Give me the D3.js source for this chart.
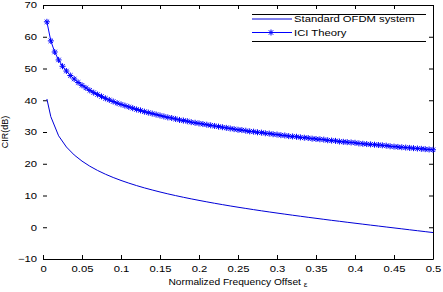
<!DOCTYPE html>
<html>
<head>
<meta charset="utf-8">
<script src="https://cdn.jsdelivr.net/npm/d3@7"></script>
<style>
  body { margin: 0; background: #fff; }
  text { font-family: "Liberation Sans", Arial, sans-serif; fill: #000; }
</style>
</head>
<body>
<svg id="chart" width="443" height="292"></svg>
<script>
// Standard OFDM system (plain line)
const stdEps = [0.005, 0.01, 0.02, 0.03, 0.04, 0.05, 0.06, 0.07, 0.08, 0.09, 0.1,
  0.11, 0.12, 0.13, 0.14, 0.15, 0.16, 0.17, 0.18, 0.19, 0.2,
  0.21, 0.22, 0.23, 0.24, 0.25, 0.26, 0.27, 0.28, 0.29, 0.3,
  0.31, 0.32, 0.33, 0.34, 0.35, 0.36, 0.37, 0.38, 0.39, 0.4,
  0.41, 0.42, 0.43, 0.44, 0.45, 0.46, 0.47, 0.48, 0.49, 0.5];
const stdCir = [40.4, 34.83, 28.80, 25.28, 22.77, 20.83, 19.23, 17.88, 16.71, 15.67, 14.74,
  13.90, 13.12, 12.40, 11.74, 11.11, 10.52, 9.97, 9.44, 8.94, 8.46,
  8.00, 7.55, 7.13, 6.71, 6.31, 5.93, 5.55, 5.18, 4.82, 4.47,
  4.13, 3.79, 3.46, 3.13, 2.82, 2.50, 2.18, 1.88, 1.57, 1.27,
  0.97, 0.67, 0.38, 0.08, -0.21, -0.50, -0.80, -1.09, -1.38, -1.67];

// ICI Theory (line with * markers)
const iciEps = [0.005, 0.01, 0.015, 0.02, 0.025, 0.03, 0.035, 0.04, 0.045, 0.05,
  0.055, 0.06, 0.065, 0.07, 0.075, 0.08, 0.085, 0.09, 0.095, 0.1,
  0.105, 0.11, 0.115, 0.12, 0.125, 0.13, 0.135, 0.14, 0.145, 0.15,
  0.155, 0.16, 0.165, 0.17, 0.175, 0.18, 0.185, 0.19, 0.195, 0.2,
  0.205, 0.21, 0.215, 0.22, 0.225, 0.23, 0.235, 0.24, 0.245, 0.25,
  0.255, 0.26, 0.265, 0.27, 0.275, 0.28, 0.285, 0.29, 0.295, 0.3,
  0.305, 0.31, 0.315, 0.32, 0.325, 0.33, 0.335, 0.34, 0.345, 0.35,
  0.355, 0.36, 0.365, 0.37, 0.375, 0.38, 0.385, 0.39, 0.395, 0.4,
  0.405, 0.41, 0.415, 0.42, 0.425, 0.43, 0.435, 0.44, 0.445, 0.45,
  0.455, 0.46, 0.465, 0.47, 0.475, 0.48, 0.485, 0.49, 0.495, 0.5];
const iciCir = [64.7, 58.7, 55.2, 52.7, 50.7, 49.2, 47.8, 46.7, 45.6, 44.7,
  43.9, 43.1, 42.4, 41.8, 41.2, 40.6, 40.1, 39.6, 39.1, 38.7,
  38.3, 37.9, 37.5, 37.1, 36.8, 36.4, 36.1, 35.8, 35.5, 35.2,
  34.9, 34.6, 34.4, 34.1, 33.8, 33.6, 33.4, 33.1, 32.9, 32.7,
  32.5, 32.3, 32.1, 31.9, 31.7, 31.5, 31.3, 31.1, 30.9, 30.7,
  30.6, 30.4, 30.2, 30.1, 29.9, 29.8, 29.6, 29.5, 29.3, 29.2,
  29.0, 28.9, 28.7, 28.6, 28.5, 28.3, 28.2, 28.1, 27.9, 27.8,
  27.7, 27.6, 27.4, 27.3, 27.2, 27.0, 26.9, 26.8, 26.7, 26.6,
  26.4, 26.3, 26.2, 26.1, 26.0, 25.9, 25.8, 25.7, 25.5, 25.4,
  25.3, 25.2, 25.1, 25.0, 24.9, 24.8, 24.7, 24.6, 24.5, 24.4];

const xTicks = [0, 0.05, 0.1, 0.15, 0.2, 0.25, 0.3, 0.35, 0.4, 0.45, 0.5];
const yTicks = [-10, 0, 10, 20, 30, 40, 50, 60, 70];
const seriesNames = ['Standard OFDM system', 'ICI Theory'];

const margin = { top: 5, left: 43, right: 10, bottom: 33 };
const width = 443 - margin.left - margin.right;
const height = 292 - margin.top - margin.bottom;
const stretchK = 1.25;
const blue = '#0000ff';

const svg = d3.select('#chart');
const chart = svg.append('g')
  .attr('transform', `translate(${margin.left},${margin.top})`);

const xScale = d3.scaleLinear().domain([0, 0.5]).range([0, width]);
const yScale = d3.scaleLinear().domain([-10, 70]).range([height, 0]);

// stretch text sideways like the source image
function stretch(sel, k) {
  sel.each(function () {
    const w = this.getComputedTextLength();
    d3.select(this).attr('textLength', w * k).attr('lengthAdjust', 'spacingAndGlyphs');
  });
}

// axes, ticks pointing inward
const xAxis = d3.axisBottom(xScale).tickValues(xTicks)
  .tickFormat(d3.format('~g')).tickSizeInner(-4).tickSizeOuter(0).tickPadding(7);
const yAxis = d3.axisLeft(yScale).tickValues(yTicks)
  .tickFormat(d3.format('d')).tickSizeInner(-4).tickSizeOuter(0).tickPadding(6);

const xAxisG = chart.append('g').attr('transform', `translate(0,${height})`).call(xAxis);
const yAxisG = chart.append('g').call(yAxis);
yAxisG.select('.domain').remove();

chart.append('g')
  .call(d3.axisTop(xScale).tickValues(xTicks).tickFormat('').tickSizeInner(-4).tickSizeOuter(0));
chart.append('g').attr('transform', `translate(${width},0)`)
  .call(d3.axisRight(yScale).tickValues(yTicks).tickFormat('').tickSizeInner(-4).tickSizeOuter(0));

chart.selectAll('.tick text').style('font-size', '9px');
chart.selectAll('.tick line').attr('stroke', '#000');
chart.selectAll('.domain').attr('stroke', '#000');
stretch(chart.selectAll('.tick text'), stretchK);

// curves
const line = d3.line().x(d => xScale(d[0])).y(d => yScale(d[1]));
const stdData = stdEps.map((e, i) => [e, stdCir[i]]);
const iciData = iciEps.map((e, i) => [e, iciCir[i]]);

chart.append('path').datum(stdData)
  .attr('d', line).attr('fill', 'none')
  .attr('stroke', '#0000d8').attr('stroke-width', 1);

chart.append('path').datum(iciData)
  .attr('d', line).attr('fill', 'none')
  .attr('stroke', blue).attr('stroke-width', 1);

const star = 'M-3,0H3M0,-3V3M-2.2,-2.2L2.2,2.2M-2.2,2.2L2.2,-2.2';
chart.selectAll('.star').data(iciData).join('path')
  .attr('class', 'star')
  .attr('transform', d => `translate(${xScale(d[0])},${yScale(d[1])})`)
  .attr('d', star).attr('fill', 'none')
  .attr('stroke', blue).attr('stroke-width', 1);

// legend
const lg = svg.append('g');
lg.append('rect').attr('x', 252).attr('y', 14).attr('width', 174).attr('height', 28)
  .attr('fill', '#fff');
lg.append('line').attr('x1', 252).attr('x2', 426).attr('y1', 14.5).attr('y2', 14.5).attr('stroke', '#000');
lg.append('line').attr('x1', 252).attr('x2', 426).attr('y1', 41.5).attr('y2', 41.5).attr('stroke', '#000');

seriesNames.forEach((name, i) => {
  const y = 19 + i * 13.5;
  lg.append('line').attr('x1', 252).attr('x2', 292).attr('y1', y).attr('y2', y)
    .attr('stroke', i === 0 ? '#0000d8' : blue);
  if (i === 1) {
    lg.append('path').attr('transform', `translate(271,${y})`).attr('d', star)
      .attr('fill', 'none').attr('stroke', blue);
  }
  lg.append('text').attr('x', 294).attr('y', y + 3).style('font-size', '9px').text(name);
});
stretch(lg.selectAll('text'), stretchK);

// axis titles
const xt = svg.append('text')
  .attr('x', margin.left + width / 2).attr('y', 285)
  .attr('text-anchor', 'middle').style('font-size', '8.5px');
xt.append('tspan').text('Normalized Frequency Offset ');
xt.append('tspan').attr('dy', 1.5).style('font-size', '7px').text('ε');
stretch(xt, 1.2);

svg.append('text')
  .attr('transform', `translate(8,${margin.top + height / 2}) rotate(-90)`)
  .attr('text-anchor', 'middle').style('font-size', '9px')
  .text('CIR(dB)');
</script>
</body>
</html>
